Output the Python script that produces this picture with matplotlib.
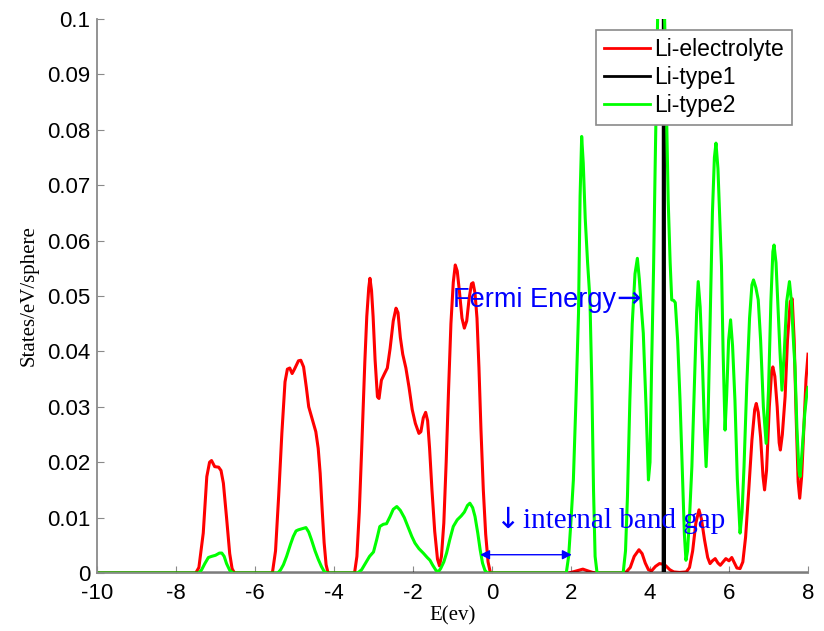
import matplotlib
matplotlib.use("Agg")
import matplotlib.pyplot as plt


# Li-electrolyte (red)
E_RED = [
    -10.0, -7.50, -7.42, -7.31, -7.22, -7.15, -7.10, -7.02, -6.92, -6.86, -6.80, -6.72, -6.64, -6.58, -6.52,
    -5.56, -5.48, -5.40, -5.32, -5.24, -5.18, -5.12, -5.06, -5.00, -4.90, -4.84, -4.77, -4.70, -4.64, -4.56,
    -4.46, -4.40, -4.35, -4.30, -4.25, -4.20, -4.15,
    -3.48, -3.42, -3.36, -3.30, -3.22, -3.17, -3.12, -3.09, -3.05, -3.01, -2.96, -2.90, -2.86, -2.80, -2.72,
    -2.65, -2.58, -2.50, -2.43, -2.38, -2.32, -2.26, -2.18, -2.10, -2.02, -1.94, -1.85, -1.80, -1.74, -1.68,
    -1.63, -1.58, -1.52, -1.45, -1.38, -1.33, -1.28, -1.22, -1.16, -1.10, -1.04, -0.98, -0.93, -0.88, -0.82,
    -0.76, -0.70, -0.64, -0.58, -0.52, -0.48, -0.43, -0.38, -0.33, -0.28, -0.22, -0.16, -0.10, -0.04,
    1.95, 2.05, 2.15, 2.30, 2.42, 2.55, 2.65,
    3.30, 3.40, 3.50, 3.60, 3.72, 3.80, 3.88, 3.96, 4.04, 4.14, 4.24, 4.32, 4.40, 4.50, 4.60, 4.75, 4.92,
    5.00, 5.08, 5.16, 5.24, 5.30, 5.38, 5.46, 5.52, 5.58, 5.65, 5.72, 5.78, 5.85, 5.92, 6.00, 6.07, 6.14,
    6.20, 6.28, 6.35, 6.42, 6.50, 6.58, 6.65, 6.69, 6.74, 6.80, 6.86, 6.90, 6.95, 7.02, 7.08, 7.11, 7.16,
    7.22, 7.27, 7.30, 7.35, 7.42, 7.48, 7.55, 7.60, 7.65, 7.70, 7.75, 7.79, 7.84, 7.90, 7.95, 8.00,
]
DOS_RED = [
    0, 0, 0.0010, 0.0072, 0.0174, 0.0200, 0.0203, 0.0192, 0.0191, 0.0185, 0.0162, 0.0100, 0.0035, 0.0008, 0,
    0, 0.0040, 0.0140, 0.0252, 0.0345, 0.0368, 0.0370, 0.0360, 0.0368, 0.0383, 0.0384, 0.0372, 0.0335, 0.0300, 0.0280,
    0.0255, 0.0225, 0.0180, 0.0115, 0.0055, 0.0015, 0,
    0, 0.0030, 0.0110, 0.0222, 0.0380, 0.0463, 0.0515, 0.0532, 0.0510, 0.0463, 0.0385, 0.0318, 0.0315, 0.0348, 0.0360,
    0.0370, 0.0405, 0.0455, 0.0478, 0.0470, 0.0425, 0.0395, 0.0370, 0.0335, 0.0295, 0.0270, 0.0252, 0.0255, 0.0280, 0.0290,
    0.0275, 0.0225, 0.0150, 0.0075, 0.0025, 0.0013, 0.0030, 0.0090, 0.0200, 0.0330, 0.0450, 0.0525, 0.0556, 0.0545, 0.0505,
    0.0460, 0.0442, 0.0455, 0.0495, 0.0522, 0.0524, 0.0505, 0.0460, 0.0370, 0.0260, 0.0150, 0.0070, 0.0020, 0,
    0, 0.0002, 0.0004, 0.0007, 0.0004, 0.0001, 0,
    0, 0.0002, 0.0010, 0.0030, 0.0042, 0.0035, 0.0018, 0.0006, 0.0004, 0.0012, 0.0017, 0.0016, 0.0013, 0.0006, 0.0002, 0.0001, 0.0002,
    0.0010, 0.0040, 0.0090, 0.0114, 0.0098, 0.0060, 0.0028, 0.0017, 0.0022, 0.0026, 0.0018, 0.0014, 0.0020, 0.0026, 0.0022, 0.0028, 0.0018,
    0.0009, 0.0008, 0.0020, 0.0065, 0.0150, 0.0240, 0.0295, 0.0306, 0.0290, 0.0245, 0.0175, 0.0150, 0.0185, 0.0300, 0.0365, 0.0372, 0.0355,
    0.0300, 0.0235, 0.0222, 0.0250, 0.0318, 0.0420, 0.0490, 0.0495, 0.0420, 0.0280, 0.0165, 0.0135, 0.0175, 0.0270, 0.0350, 0.0395,
]

# Li-type1 (black) - a single spike at the Fermi level
E_BLACK = [-10.0, 4.33, 4.35, 4.37, 8.0]
DOS_BLACK = [0, 0, 0.5, 0, 0]

# Li-type2 (green)
E_GREEN = [
    -10.0, -7.42, -7.35, -7.27, -7.18, -7.10, -7.00, -6.90, -6.84, -6.78, -6.72, -6.64, -6.56,
    -5.42, -5.35, -5.28, -5.20, -5.10, -5.03, -4.96, -4.90, -4.80, -4.71, -4.64, -4.57, -4.48, -4.40, -4.32, -4.25, -4.18,
    -3.40, -3.30, -3.20, -3.10, -3.00, -2.92, -2.84, -2.75, -2.67, -2.58, -2.50, -2.41, -2.32, -2.22, -2.12, -2.03,
    -1.95, -1.85, -1.74, -1.64, -1.57, -1.50, -1.42, -1.36, -1.30, -1.22, -1.15, -1.07, -0.98, -0.88, -0.78, -0.70,
    -0.62, -0.56, -0.49, -0.43, -0.36, -0.30, -0.24, -0.18, -0.12,
    1.88, 1.94, 2.00, 2.06, 2.12, 2.19, 2.23, 2.27, 2.31, 2.36, 2.42, 2.48, 2.53, 2.57, 2.61, 2.66,
    3.32, 3.38, 3.43, 3.49, 3.55, 3.62, 3.68, 3.73, 3.78, 3.83, 3.90, 3.96, 4.00, 4.04, 4.09, 4.13, 4.17,
    4.22, 4.28, 4.34, 4.40, 4.46, 4.51, 4.55, 4.60, 4.64, 4.70, 4.76, 4.82, 4.87, 4.91, 4.95, 5.00, 5.06,
    5.12, 5.18, 5.22, 5.27, 5.33, 5.38, 5.42, 5.47, 5.52, 5.58, 5.63, 5.67, 5.72, 5.77, 5.81, 5.85, 5.90,
    5.94, 5.99, 6.04, 6.09, 6.15, 6.21, 6.28, 6.33, 6.38, 6.45, 6.52, 6.58, 6.62, 6.68, 6.74, 6.80, 6.87,
    6.94, 7.00, 7.06, 7.11, 7.14, 7.19, 7.24, 7.29, 7.34, 7.40, 7.46, 7.53, 7.58, 7.63, 7.67, 7.72, 7.77,
    7.80, 7.85, 7.92, 7.97, 8.00,
]
DOS_GREEN = [
    0, 0, 0.0006, 0.0017, 0.0028, 0.0030, 0.0032, 0.0036, 0.0036, 0.0030, 0.0017, 0.0005, 0,
    0, 0.0006, 0.0015, 0.0030, 0.0052, 0.0066, 0.0076, 0.0078, 0.0080, 0.0082, 0.0074, 0.0060, 0.0040, 0.0025, 0.0012, 0.0003, 0,
    0, 0.0006, 0.0018, 0.0030, 0.0038, 0.0060, 0.0084, 0.0088, 0.0089, 0.0102, 0.0115, 0.0120, 0.0113, 0.0100, 0.0082, 0.0066,
    0.0054, 0.0044, 0.0036, 0.0028, 0.0023, 0.0014, 0.0005, 0.0002, 0.0008, 0.0020, 0.0036, 0.0060, 0.0084, 0.0096, 0.0103, 0.0110,
    0.0122, 0.0126, 0.0118, 0.0102, 0.0072, 0.0042, 0.0018, 0.0005, 0,
    0, 0.0030, 0.0095, 0.0168, 0.0300, 0.0469, 0.0680, 0.0788, 0.0740, 0.0640, 0.0560, 0.0493, 0.0330, 0.0150, 0.0030, 0,
    0, 0.0040, 0.0140, 0.0312, 0.0450, 0.0540, 0.0568, 0.0530, 0.0480, 0.0433, 0.0300, 0.0168, 0.0200, 0.0372, 0.0550, 0.0733, 0.0900,
    0.1120, 0.1150, 0.1100, 0.0900, 0.0673, 0.0560, 0.0493, 0.0492, 0.0488, 0.0420, 0.0312, 0.0180, 0.0070, 0.0023, 0.0040, 0.0100, 0.0192,
    0.0330, 0.0470, 0.0526, 0.0480, 0.0372, 0.0260, 0.0192, 0.0280, 0.0450, 0.0650, 0.0750, 0.0776, 0.0730, 0.0630, 0.0553, 0.0400, 0.0258,
    0.0320, 0.0420, 0.0457, 0.0410, 0.0312, 0.0170, 0.0072, 0.0110, 0.0192, 0.0340, 0.0460, 0.0520, 0.0529, 0.0515, 0.0493, 0.0420, 0.0300,
    0.0234, 0.0330, 0.0490, 0.0580, 0.0592, 0.0560, 0.0480, 0.0400, 0.0330, 0.0400, 0.0490, 0.0526, 0.0490, 0.0420, 0.0372, 0.0260, 0.0185,
    0.0174, 0.0220, 0.0290, 0.0324, 0.0335,
]

SERIES_NAMES = ["Li-electrolyte", "Li-type1", "Li-type2"]
X_TICKS = [-10, -8, -6, -4, -2, 0, 2, 4, 6, 8]
Y_TICKS = [0, 0.01, 0.02, 0.03, 0.04, 0.05, 0.06, 0.07, 0.08, 0.09, 0.1]
Y_TICK_LABELS = ["0", "0.01", "0.02", "0.03", "0.04", "0.05", "0.06", "0.07", "0.08", "0.09", "0.1"]

SANS = ["Liberation Sans", "DejaVu Sans"]
SERIF = ["Liberation Serif", "DejaVu Serif"]
AXIS_GRAY = "#8a8a8a"
BLUE = "#0000ff"


def main():
    fig = plt.figure(figsize=(8.24, 6.31), dpi=100)
    ax = fig.add_axes([0.1177, 0.0919, 0.8629, 0.8780])

    ax.plot(E_RED, DOS_RED, color="#ff0000", linewidth=2.2, label=SERIES_NAMES[0])
    ax.plot(E_BLACK, DOS_BLACK, color="black", linewidth=2.0, label=SERIES_NAMES[1])
    ax.plot(E_GREEN, DOS_GREEN, color="#00ff00", linewidth=2.2, label=SERIES_NAMES[2])

    ax.set_xlim(-10, 8)
    ax.set_ylim(0, 0.1)
    ax.set_xticks(X_TICKS)
    ax.set_xticklabels([str(t) for t in X_TICKS], family=SANS, fontsize=16)
    ax.set_yticks(Y_TICKS)
    ax.set_yticklabels(Y_TICK_LABELS, family=SANS, fontsize=16)
    ax.tick_params(direction="in", length=5, width=0.8, color=AXIS_GRAY)
    ax.tick_params(axis="x", pad=7)
    ax.tick_params(axis="y", pad=5)

    for side in ("top", "right"):
        ax.spines[side].set_visible(False)
    for side in ("left", "bottom"):
        ax.spines[side].set_color(AXIS_GRAY)
        ax.spines[side].set_linewidth(1.3)

    ax.set_xlabel("E(ev)", family=SERIF, fontsize=15, labelpad=2)
    ax.set_ylabel("States/eV/sphere", family=SERIF, fontsize=15, labelpad=6)

    # annotations
    fermi = ax.text(-0.99, 0.048, "Fermi Energy", family=SANS, fontsize=19.5,
                    color=BLUE, va="baseline", ha="left")
    ax.annotate("\u2192", xy=(1, 0), xycoords=fermi, xytext=(0, 0),
                textcoords="offset points", family="DejaVu Sans", fontsize=21,
                color=BLUE, va="bottom", ha="left")
    ax.text(0.08, 0.0081, "\u2193", family="DejaVu Sans", fontsize=21,
            color=BLUE, va="baseline", ha="left")
    ax.text(0.78, 0.0081, "internal band gap", family=SERIF, fontsize=21,
            color=BLUE, va="baseline", ha="left")
    ax.annotate("", xy=(-0.30, 0.0033), xytext=(2.02, 0.0033),
                arrowprops=dict(arrowstyle="<|-|>", color=BLUE, lw=1.0,
                                mutation_scale=14, shrinkA=0, shrinkB=0))

    leg = ax.legend(loc="upper right", bbox_to_anchor=(0.9775, 0.980),
                    prop={"family": SANS, "size": 16.5}, frameon=True, fancybox=False,
                    framealpha=1.0, borderaxespad=0, handlelength=2.0, handletextpad=0.2,
                    labelspacing=0.22, borderpad=0.35)
    leg.get_frame().set_edgecolor(AXIS_GRAY)
    leg.get_frame().set_linewidth(1.2)
    for line in leg.get_lines():
        line.set_linewidth(2.0)

    fig.savefig("out.png", dpi=100)
    plt.close(fig)


if __name__ == "__main__":
    main()
